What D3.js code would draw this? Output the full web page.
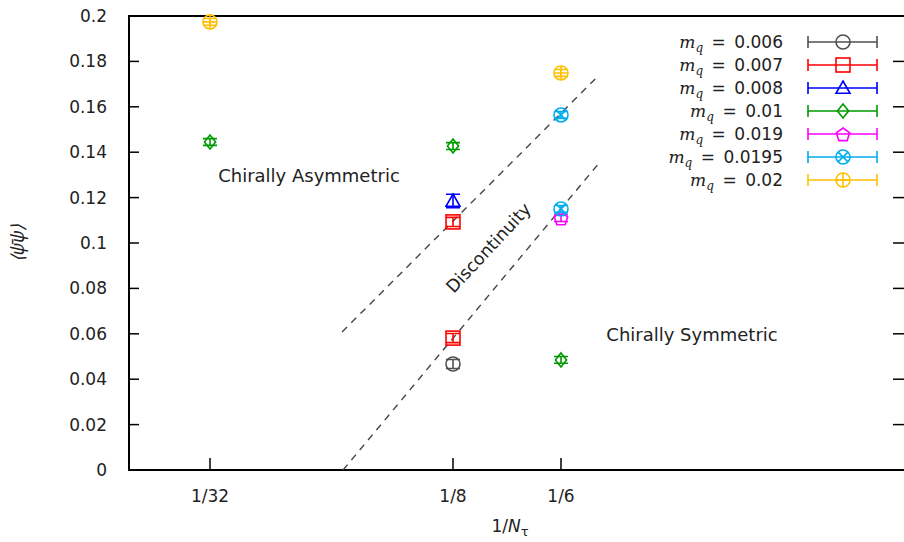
<!DOCTYPE html>
<html>
<head>
<meta charset="utf-8">
<script src="https://cdn.jsdelivr.net/npm/d3@7"></script>
<style>
  body { margin: 0; background: #fff; }
  svg { font-family: "DejaVu Sans", "Noto Sans", sans-serif; }
  .tick-label { font-size: 17px; fill: #222; }
</style>
</head>
<body>
<div id="chart"></div>
<script>
const width = 904, height = 542;
const margin = { left: 129, top: 16, bottom: 72 };

const xTicks = [1 / 32, 1 / 8, 1 / 6];
const xTickLabels = ["1/32", "1/8", "1/6"];
const yTicks = [0, 0.02, 0.04, 0.06, 0.08, 0.1, 0.12, 0.14, 0.16, 0.18, 0.2];

const mqLabels = ["0.006", "0.007", "0.008", "0.01", "0.019", "0.0195", "0.02"];
const colors = ["#505050", "#ff0000", "#0000ff", "#009a00", "#ff00ff", "#00aeef", "#ffc000"];
const shapes = ["circle", "square", "triangle", "diamond", "pentagon", "circlex", "circleplus"];

// [1/N_tau, <psibar psi>, error]
const pts006 = [[1 / 8, 0.0467, 0.002]];
const pts007 = [[1 / 8, 0.0581, 0.002], [1 / 8, 0.1093, 0.002]];
const pts008 = [[1 / 8, 0.1185, 0.003]];
const pts010 = [[1 / 32, 0.1445, 0.0015], [1 / 8, 0.1427, 0.0015], [1 / 6, 0.0485, 0.0015]];
const pts019 = [[1 / 6, 0.1110, 0.0015]];
const pts0195 = [[1 / 6, 0.1150, 0.0015], [1 / 6, 0.1564, 0.0015]];
const pts020 = [[1 / 32, 0.1974, 0.0015], [1 / 6, 0.1749, 0.0015]];
const allPoints = [pts006, pts007, pts008, pts010, pts019, pts0195, pts020];

// dashed boundary lines [[x0, y0], [x1, y1]]
const upperLine = [[0.0822, 0.0608], [0.1806, 0.1731]];
const lowerLine = [[0.0826, 0.0], [0.1817, 0.1357]];

const x = d3.scaleLinear().domain([0, 0.3]).range([margin.left, margin.left + 0.3 * 2592]);
const y = d3.scaleLinear().domain([0, 0.2]).range([height - margin.bottom, margin.top]);

const svg = d3.select("#chart").append("svg")
  .attr("width", width).attr("height", height);

// frame
svg.append("rect")
  .attr("x", x(0)).attr("y", y(0.2))
  .attr("width", x(0.3) - x(0)).attr("height", y(0) - y(0.2))
  .attr("fill", "none").attr("stroke", "#000").attr("stroke-width", 2);

// y ticks (left + mirrored right)
yTicks.forEach((t) => {
  svg.append("line").attr("x1", x(0)).attr("x2", x(0) + 10)
    .attr("y1", y(t)).attr("y2", y(t)).attr("stroke", "#000").attr("stroke-width", 1.5);
  svg.append("line").attr("x1", 893).attr("x2", x(0.3))
    .attr("y1", y(t)).attr("y2", y(t)).attr("stroke", "#000").attr("stroke-width", 1.5);
  svg.append("text").attr("class", "tick-label")
    .attr("x", 107).attr("y", y(t) + 6).attr("text-anchor", "end")
    .text(d3.format("")(t));
});

// x ticks
xTicks.forEach((t, i) => {
  svg.append("line").attr("x1", x(t)).attr("x2", x(t))
    .attr("y1", y(0)).attr("y2", y(0) - 12).attr("stroke", "#000").attr("stroke-width", 1.5);
  svg.append("text").attr("class", "tick-label")
    .attr("x", x(t)).attr("y", y(0) + 32).attr("text-anchor", "middle")
    .text(xTickLabels[i]);
});

// axis labels
const xl = svg.append("text").attr("x", 510).attr("y", 532)
  .attr("text-anchor", "middle").attr("font-size", 17).attr("fill", "#222");
xl.append("tspan").text("1/");
xl.append("tspan").attr("font-style", "italic").text("N");
xl.append("tspan").attr("font-size", 13).attr("dy", 4).text("τ");

svg.append("text")
  .attr("transform", "translate(24,243) rotate(-90)")
  .attr("text-anchor", "middle").attr("font-size", 18).attr("fill", "#222")
  .attr("font-family", "Noto Sans").attr("font-style", "italic")
  .text("⟨ψ̄ψ⟩");

// dashed lines
const line = d3.line().x((d) => x(d[0])).y((d) => y(d[1]));
[upperLine, lowerLine].forEach((l) => {
  svg.append("path").attr("d", line(l))
    .attr("fill", "none").attr("stroke", "#444").attr("stroke-width", 1.4)
    .attr("stroke-dasharray", "7,6");
});

// region labels
svg.append("text").attr("x", 309).attr("y", 182).attr("text-anchor", "middle")
  .attr("font-size", 18).attr("fill", "#222").text("Chirally Asymmetric");
svg.append("text").attr("x", 692).attr("y", 341).attr("text-anchor", "middle")
  .attr("font-size", 18).attr("fill", "#222").text("Chirally Symmetric");
svg.append("text").attr("transform", "translate(493,252) rotate(-47)")
  .attr("text-anchor", "middle").attr("font-size", 17.5).attr("fill", "#222")
  .text("Discontinuity");

function drawMarker(g, shape, cx, cy, color) {
  const r = 7;
  const s = { fill: "none", stroke: color, "stroke-width": 1.6 };
  const apply = (el) => { Object.entries(s).forEach(([k, v]) => el.attr(k, v)); return el; };
  if (shape === "circle" || shape === "circlex" || shape === "circleplus") {
    apply(g.append("circle").attr("cx", cx).attr("cy", cy).attr("r", r));
    if (shape === "circlex") {
      const d = r * 0.7;
      apply(g.append("path").attr("d", `M${cx - d},${cy - d}L${cx + d},${cy + d}M${cx - d},${cy + d}L${cx + d},${cy - d}`));
    }
    if (shape === "circleplus") {
      apply(g.append("path").attr("d", `M${cx - r},${cy}L${cx + r},${cy}M${cx},${cy - r}L${cx},${cy + r}`));
    }
  } else if (shape === "square") {
    apply(g.append("rect").attr("x", cx - r).attr("y", cy - r).attr("width", 2 * r).attr("height", 2 * r));
  } else if (shape === "triangle") {
    apply(g.append("path").attr("d", `M${cx},${cy - r}L${cx + r},${cy + r * 0.75}L${cx - r},${cy + r * 0.75}Z`));
  } else if (shape === "diamond") {
    apply(g.append("path").attr("d", `M${cx},${cy - r}L${cx + r * 0.8},${cy}L${cx},${cy + r}L${cx - r * 0.8},${cy}Z`));
  } else if (shape === "pentagon") {
    const pts = d3.range(5).map((k) => {
      const a = -Math.PI / 2 + (k * 2 * Math.PI) / 5;
      return [cx + r * Math.cos(a), cy + r * Math.sin(a) + 1];
    });
    apply(g.append("path").attr("d", "M" + pts.join("L") + "Z"));
  }
}

// data points with error bars
allPoints.forEach((pts, i) => {
  const g = svg.append("g");
  pts.forEach(([px, py, pe]) => {
    const cx = x(px), cy = y(py);
    const y0 = y(py - pe), y1 = y(py + pe);
    g.append("path")
      .attr("d", `M${cx},${y0}L${cx},${y1}M${cx - 7},${y0}L${cx + 7},${y0}M${cx - 7},${y1}L${cx + 7},${y1}`)
      .attr("stroke", colors[i]).attr("stroke-width", 1.6).attr("fill", "none");
    drawMarker(g, shapes[i], cx, cy, colors[i]);
  });
});

// legend
const legend = svg.append("g");
mqLabels.forEach((lab, i) => {
  const ly = 42 + i * 23;
  const t = legend.append("text").attr("x", 783).attr("y", ly + 6)
    .attr("text-anchor", "end").attr("font-size", 17).attr("fill", "#222");
  t.append("tspan").attr("font-style", "italic").attr("font-family", "DejaVu Serif").text("m");
  t.append("tspan").attr("font-style", "italic").attr("font-family", "DejaVu Serif")
    .attr("font-size", 12).attr("dy", 4).text("q");
  t.append("tspan").attr("dy", -4).text("\u2002=\u2002" + lab);
  legend.append("path")
    .attr("d", `M808,${ly}L877,${ly}M808,${ly - 6}L808,${ly + 6}M877,${ly - 6}L877,${ly + 6}`)
    .attr("stroke", colors[i]).attr("stroke-width", 1.6).attr("fill", "none");
  drawMarker(legend, shapes[i], 843, ly, colors[i]);
});
</script>
</body>
</html>
